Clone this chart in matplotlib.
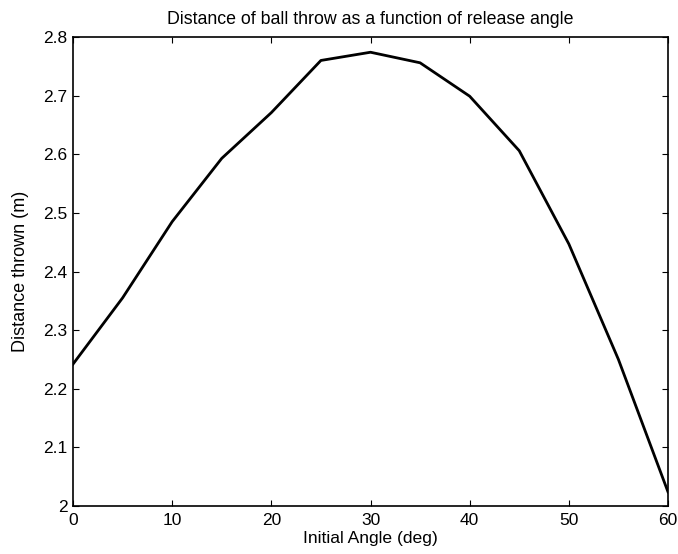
import numpy as np
import matplotlib.pyplot as plt

# 数据: 出手角度与投掷距离
angle_deg = [0, 5, 10, 15, 20, 25, 30, 35, 40, 45, 50, 55, 60]
distance_m = [2.242, 2.355, 2.485, 2.593, 2.671, 2.760, 2.774, 2.756, 2.699,
              2.606, 2.447, 2.250, 2.024]
x_ticks = [0, 10, 20, 30, 40, 50, 60]
y_ticks = [2, 2.1, 2.2, 2.3, 2.4, 2.5, 2.6, 2.7, 2.8]
y_tick_labels = ['2', '2.1', '2.2', '2.3', '2.4', '2.5', '2.6', '2.7', '2.8']

plt.rcParams['font.family'] = ['Liberation Sans', 'DejaVu Sans']

fig = plt.figure(figsize=(6.78, 5.54), dpi=100)
ax = fig.add_axes([73 / 678, 48 / 554, 595 / 678, 469 / 554])
ax.plot(angle_deg, distance_m, color='black', linewidth=2)

ax.set_xlim(0, 60)
ax.set_ylim(2, 2.8)
ax.set_xticks(x_ticks)
ax.set_yticks(y_ticks)
ax.set_yticklabels(y_tick_labels)
ax.tick_params(direction='in', length=4, width=0.8, top=True, right=True,
               labelsize=12.5)
ax.tick_params(axis='x', pad=5)
ax.tick_params(axis='y', pad=4)
for s in ax.spines.values():
    s.set_linewidth(1.2)

ax.set_title('Distance of ball throw as a function of release angle',
             fontsize=12.8, pad=9)
ax.set_xlabel('Initial Angle (deg)', fontsize=12.6, labelpad=2)
ax.set_ylabel('Distance thrown (m)', fontsize=13, labelpad=10)

fig.savefig('out.png', dpi=100)
